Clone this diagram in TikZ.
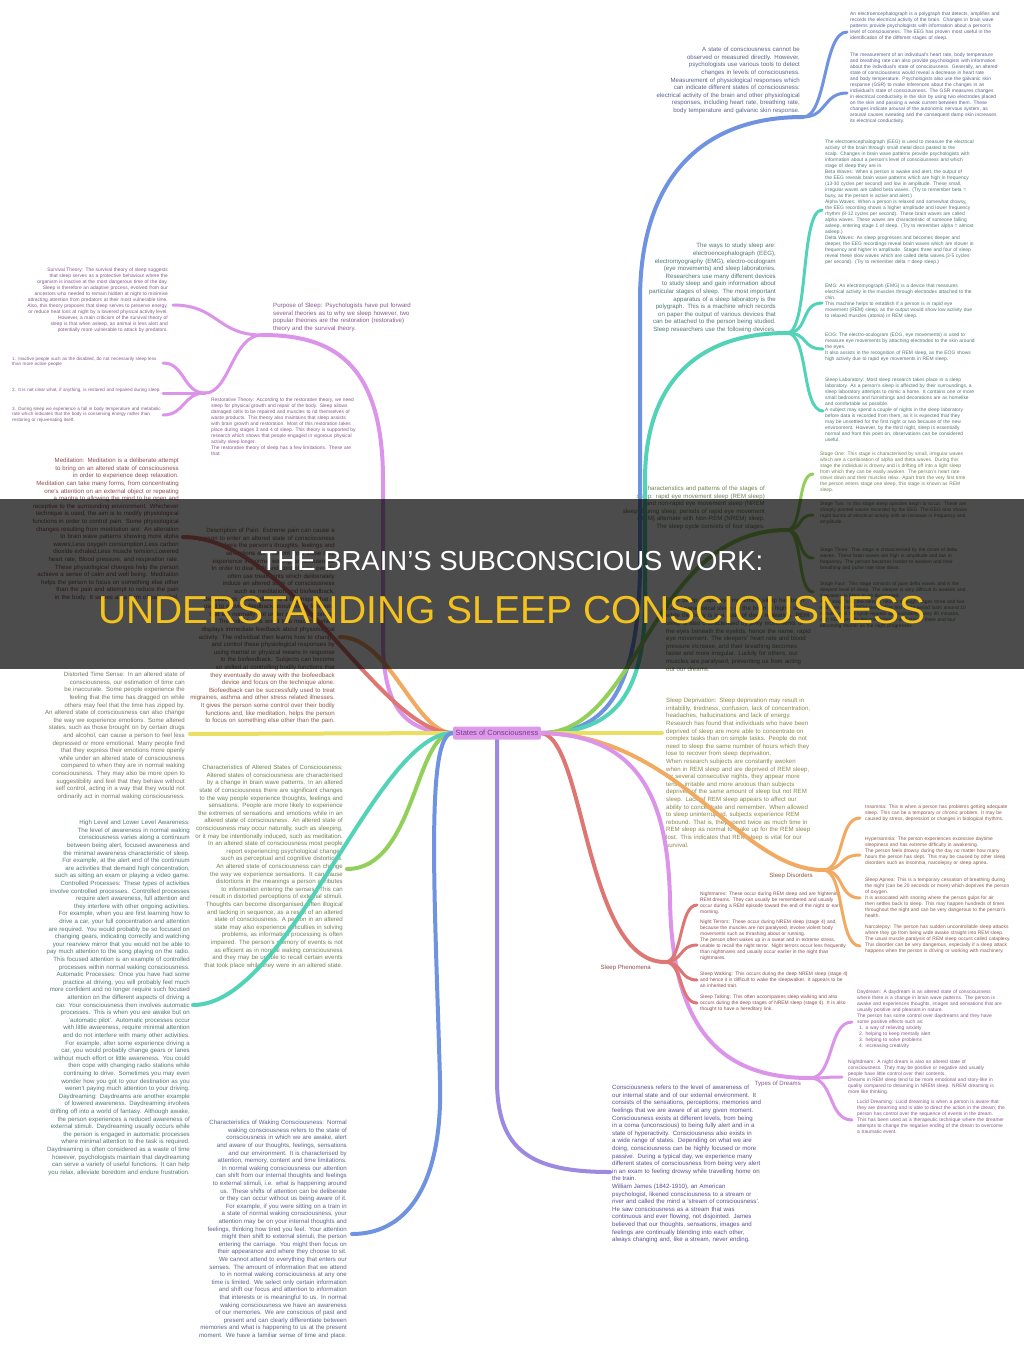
\documentclass[tikz,border=0pt]{standalone}
\usepackage{fontspec}
\setmainfont{Liberation Sans}
\usepackage{xcolor}
\usetikzlibrary{positioning}

\definecolor{brblue}{HTML}{6F93E0}
\definecolor{brteal}{HTML}{52D3B8}
\definecolor{brgreen}{HTML}{92D05A}
\definecolor{bryellow}{HTML}{EADF62}
\definecolor{brorange}{HTML}{F2AA62}
\definecolor{brred}{HTML}{DE7774}
\definecolor{brpink}{HTML}{DC94EA}
\definecolor{brviolet}{HTML}{9D88E2}
\definecolor{txblue}{HTML}{56658F}
\definecolor{txteal}{HTML}{4F7873}
\definecolor{txgreen}{HTML}{6C8450}
\definecolor{txyellow}{HTML}{8C8646}
\definecolor{txgray}{HTML}{77775E}
\definecolor{txorange}{HTML}{8E5A44}
\definecolor{txred}{HTML}{8E4E4E}
\definecolor{txpink}{HTML}{87578F}
\definecolor{txviolet}{HTML}{5D4E93}
\definecolor{rootfill}{HTML}{DD9AE8}
\definecolor{roottext}{HTML}{7E3A90}
\definecolor{titleyellow}{HTML}{F4C21C}

\newcommand\nohyph{\lefthyphenmin=62\righthyphenmin=62\hyphenpenalty=10000\exhyphenpenalty=10000}
\newcommand\fone{\fontsize{6.1}{7.6}\selectfont\nohyph}
\newcommand\ftwo{\fontsize{4.9}{6}\selectfont\nohyph}
\newcommand\fthree{\fontsize{4.6}{5.4}\selectfont\nohyph}

\pgfdeclarelayer{fg}
\pgfsetlayers{main,fg}

\tikzset{
  limb/.style={line width=4pt, line cap=round},
  twig/.style={line width=3pt, line cap=round},
  bigtext/.style={inner sep=0pt, font=\fone, text width=#1},
  bigtext/.default=146pt,
  smalltext/.style={inner sep=0pt, font=\ftwo, text width=#1},
  smalltext/.default=148pt,
  tinytext/.style={inner sep=0pt, font=\fthree, text width=#1},
  tinytext/.default=150pt,
  root/.style={fill=rootfill, text=roottext, rounded corners=2pt, inner sep=0pt,
    minimum width=88pt, minimum height=13pt, font=\fontsize{7.5}{9}\selectfont},
  caption/.style={inner sep=0pt, font=\fone}
}

\begin{document}
\begin{tikzpicture}[x=1pt,y=-1pt]
\useasboundingbox (0,0) rectangle (1024,1363);
\fill[white] (0,0) rectangle (1024,1363);

% end points of the branches
\coordinate (stateJ) at (803,117);
\coordinate (eegpoly) at (847,32);
\coordinate (physio) at (847,93);
\coordinate (studyJ) at (787,333);
\coordinate (eegc) at (822,210);
\coordinate (emgc) at (822,303);
\coordinate (eogc) at (823,349);
\coordinate (labc) at (823,411);
\coordinate (stageJ) at (787,530);
\coordinate (st1c) at (813,474);
\coordinate (st2c) at (813,515);
\coordinate (st3c) at (813,558);
\coordinate (st4c) at (813,592);
\coordinate (depc) at (662,733);
\coordinate (disJ) at (823,870);
\coordinate (insc) at (860,818);
\coordinate (hypc) at (860,855);
\coordinate (apnc) at (860,898);
\coordinate (narc) at (860,946);
\coordinate (phenJ) at (665,962);
\coordinate (nmc) at (697,905);
\coordinate (ntc) at (697,945);
\coordinate (swc) at (697,980);
\coordinate (stc) at (697,1003);
\coordinate (dreamJ) at (810,1078);
\coordinate (dayc) at (852,1022);
\coordinate (nightc) at (842,1077);
\coordinate (lucc) at (852,1120);
\coordinate (consc) at (610,1172);
\coordinate (purJ) at (262,335);
\coordinate (survc) at (173,305);
\coordinate (restJ) at (205,393);
\coordinate (item1c) at (163,363);
\coordinate (item2c) at (163,393);
\coordinate (item3c) at (163,415);
\coordinate (medc) at (183,537);
\coordinate (painc) at (340,637);
\coordinate (timec) at (190,734);
\coordinate (altc) at (347,869);
\coordinate (awarec) at (193,1005);
\coordinate (wakec) at (352,1234);

% measuring consciousness
\node[bigtext=150pt, align=right, text=txblue, anchor=south east] (statelbl) at (800,114) {A state of consciousness cannot be observed or measured directly. However, psychologists use various tools to detect changes in levels of consciousness.\\ Measurement of physiological responses which can indicate different states of consciousness: electrical activity of the brain and other physiological responses, including heart rate, breathing rate, body temperature and galvanic skin response.};
\node[smalltext=150pt, align=left, text=txblue, anchor=north west] (eegpolytxt) at (850,12) {An electroencephalograph is a polygraph that detects, amplifies and records the electrical activity of the brain. Changes in brain wave patterns provide psychologists with information about a person's level of consciousness. The EEG has proven most useful in the identification of the different stages of sleep.};
\node[smalltext=150pt, align=left, text=txblue, anchor=north west] (physiotxt) at (850,53) {The measurement of an individual's heart rate, body temperature and breathing rate can also provide psychologists with information about the individual's state of consciousness. Generally, an altered state of consciousness would reveal a decrease in heart rate and body temperature. Psychologists also use the galvanic skin response (GSR) to make inferences about the changes in an individual's state of consciousness. The GSR measures changes in electrical conductivity in the skin by using two electrodes placed on the skin and passing a weak current between them. These changes indicate arousal of the autonomic nervous system, as arousal causes sweating and the consequent damp skin increases its electrical conductivity.};

% ways to study sleep
\node[bigtext=142pt, align=right, text=txteal, anchor=south east] (studylbl) at (776,333) {The ways to study sleep are: electroencephalograph (EEG), electromyography (EMG), electro-oculogram (eye movements) and sleep laboratories.\\ Researchers use many different devices to study sleep and gain information about particular stages of sleep. The most important apparatus of a sleep laboratory is the polygraph. This is a machine which records on paper the output of various devices that can be attached to the person being studied.\\ Sleep researchers use the following devices.};
\node[smalltext=150pt, align=left, text=txteal, anchor=north west] (eegtxt) at (825,140) {The electroencephalograph (EEG) is used to measure the electrical activity of the brain through small metal discs pasted to the scalp. Changes in brain wave patterns provide psychologists with information about a person's level of consciousness and which stage of sleep they are in.\\ Beta Waves: When a person is awake and alert, the output of the EEG reveals brain wave patterns which are high in frequency (13-30 cycles per second) and low in amplitude. These small, irregular waves are called beta waves. (Try to remember beta = busy, as the person is active and alert.)\\ Alpha Waves: When a person is relaxed and somewhat drowsy, the EEG recording shows a higher amplitude and lower frequency rhythm (8-12 cycles per second). These brain waves are called alpha waves. These waves are characteristic of someone falling asleep, entering stage 1 of sleep. (Try to remember alpha = almost asleep.)\\ Delta Waves: As sleep progresses and becomes deeper and deeper, the EEG recordings reveal brain waves which are slower in frequency and higher in amplitude. Stages three and four of sleep reveal these slow waves which are called delta waves.(3-5 cycles per second). (Try to remember delta = deep sleep.)};
\node[smalltext=150pt, align=left, text=txteal, anchor=north west] (emgtxt) at (825,284) {EMG: An electromyograph (EMG) is a device that measures electrical activity in the muscles through electrodes attached to the chin.\\ This machine helps to establish if a person is in rapid eye movement (REM) sleep, as the output would show low activity due to relaxed muscles (atonia) in REM sleep.};
\node[smalltext=150pt, align=left, text=txteal, anchor=north west] (eogtxt) at (825,333) {EOG: The electro-oculogram (EOG, eye movements) is used to measure eye movements by attaching electrodes to the skin around the eyes.\\ It also assists in the recognition of REM sleep, as the EOG shows high activity due to rapid eye movements in REM sleep.};
\node[smalltext=150pt, align=left, text=txteal, anchor=north west] (labtxt) at (825,378) {Sleep Laboratory: Most sleep research takes place in a sleep laboratory. As a person's sleep is affected by their surroundings, a sleep laboratory attempts to mimic a home. It contains one or more small bedrooms and furnishings and decorations are as homelike and comfortable as possible.\\ A subject may spend a couple of nights in the sleep laboratory before data is recorded from them, as it is expected that they may be unsettled for the first night or two because of the new environment. However, by the third night, sleep is essentially normal and from this point on, observations can be considered useful.};

% stages of sleep
\node[bigtext=146pt, align=right, text=txgreen, anchor=south east] (stagelbl) at (765,530) {Characteristics and patterns of the stages of sleep: rapid eye movement sleep (REM sleep) and non-rapid eye movement sleep (NREM sleep).During sleep, periods of rapid eye movement (REM) alternate with Non-REM (NREM) sleep.\\ The sleep cycle consists of four stages.};
\node[smalltext=148pt, align=left, text=txgreen, anchor=north west] (st1txt) at (820,452) {Stage One: This stage is characterised by small, irregular waves which are a combination of alpha and theta waves. During this stage the individual is drowsy and is drifting off into a light sleep from which they can be easily awoken. The person's heart rate slows down and their muscles relax. Apart from the very first time the person enters stage one sleep, this stage is known as REM sleep.};
\node[smalltext=148pt, align=left, text=txgreen, anchor=north west] (st2txt) at (820,502) {Stage Two: In this stage sleep spindles begin to occur. These are sharply pointed waves recorded by the EEG. The EEG also shows rapid bursts of electrical activity with an increase in frequency and amplitude.};
\node[smalltext=148pt, align=left, text=txgreen, anchor=north west] (st3txt) at (820,548) {Stage Three: This stage is characterised by the onset of delta waves. These brain waves are high in amplitude and low in frequency. The person becomes harder to awaken and their breathing and pulse rate slow down.};
\node[smalltext=148pt, align=left, text=txgreen, anchor=north west] (st4txt) at (820,582) {Stage Four: This stage consists of pure delta waves and is the deepest level of sleep. The sleeper is very difficult to awaken and if awoken, is likely to be disoriented.\\ After stage four, the sleeper returns through stages three and two and then enters REM sleep. The first REM period lasts around 10 minutes and the cycle repeats approximately every 90 minutes, with REM periods becoming longer and stages three and four becoming shorter as the night progresses.};
\node[bigtext=146pt, align=left, text=txgreen, anchor=north west] (remtxt) at (666,598) {REM Sleep: Rapid eye movement sleep has been called paradoxical sleep as the brain is highly active while the body is in a state of deep relaxation. REM sleep is also characterised by jerky movements of the eyes beneath the eyelids, hence the name, rapid eye movement. The sleepers' heart rate and blood pressure increase, and their breathing becomes faster and more irregular. Luckily for others, our muscles are paralysed, preventing us from acting out our dreams.};

% sleep deprivation
\node[bigtext=146pt, align=left, text=txyellow, anchor=north west] (deptxt) at (666,698) {Sleep Deprivation: Sleep deprivation may result in irritability, tiredness, confusion, lack of concentration, headaches, hallucinations and lack of energy.\\ Research has found that individuals who have been deprived of sleep are more able to concentrate on complex tasks than on simple tasks. People do not need to sleep the same number of hours which they lose to recover from sleep deprivation.\\ When research subjects are constantly awoken when in REM sleep and are deprived of REM sleep, for several consecutive nights, they appear more tense, irritable and more anxious than subjects deprived of the same amount of sleep but not REM sleep. Lack of REM sleep appears to affect our ability to concentrate and remember. When allowed to sleep uninterrupted, subjects experience REM rebound. That is, they spend twice as much time in REM sleep as normal to make up for the REM sleep lost. This indicates that REM sleep is vital for our survival.};

% sleep disorders
\node[caption, text=txorange, anchor=north east] (dislbl) at (813,873) {Sleep Disorders};
\node[smalltext, align=left, text=txorange, anchor=north west] (instxt) at (865,805) {Insomnia: This is when a person has problems getting adequate sleep. This can be a temporary or chronic problem. It may be caused by stress, depression or changes in biological rhythms.};
\node[smalltext, align=left, text=txorange, anchor=north west] (hyptxt) at (865,837) {Hypersomnia: The person experiences excessive daytime sleepiness and has extreme difficulty in awakening.\\ The person feels drowsy during the day no matter how many hours the person has slept. This may be caused by other sleep disorders such as insomnia, narcolepsy or sleep apnea.};
\node[smalltext, align=left, text=txorange, anchor=north west] (apntxt) at (865,878) {Sleep Apnea: This is a temporary cessation of breathing during the night (can be 20 seconds or more) which deprives the person of oxygen.\\ It is associated with snoring where the person gulps for air then settles back to sleep. This may happen hundreds of times throughout the night and can be very dangerous to the person's health.};
\node[smalltext, align=left, text=txorange, anchor=north west] (nartxt) at (865,925) {Narcolepsy: The person has sudden uncontrollable sleep attacks where they go from being wide awake straight into REM sleep.\\ The usual muscle paralysis of REM sleep occurs called cataplexy. This disorder can be very dangerous, especially if a sleep attack happens when the person is driving or working with machinery.};

% sleep phenomena
\node[caption, text=txred, anchor=north east] (phenlbl) at (651,965) {Sleep Phenomena};
\node[smalltext, align=left, text=txred, anchor=north west] (nmtxt) at (700,892) {Nightmares: These occur during REM sleep and are frightening REM dreams. They can usually be remembered and usually occur during a REM episode toward the end of the night or early morning.};
\node[smalltext, align=left, text=txred, anchor=north west] (nttxt) at (700,920) {Night Terrors: These occur during NREM sleep (stage 4) and, because the muscles are not paralysed, involve violent body movements such as thrashing about or running.\\ The person often wakes up in a sweat and in extreme stress, unable to recall the night terror. Night terrors occur less frequently than nightmares and usually occur earlier in the night than nightmares.};
\node[smalltext, align=left, text=txred, anchor=north west] (swtxt) at (700,972) {Sleep Walking: This occurs during the deep NREM sleep (stage 4) and hence it is difficult to wake the sleepwalker. It appears to be an inherited trait.};
\node[smalltext, align=left, text=txred, anchor=north west] (sttxt) at (700,995) {Sleep Talking: This often accompanies sleep walking and also occurs during the deep stages of NREM sleep (stage 4). It is also thought to have a hereditary link.};

% dreams
\node[caption, text=txpink, anchor=north east] (dreamlbl) at (801,1081) {Types of Dreams};
\node[smalltext, align=left, text=txpink, anchor=north west] (daytxt) at (857,990) {Daydream: A daydream is an altered state of consciousness where there is a change in brain wave patterns. The person is awake and experiences thoughts, images and sensations that are usually positive and pleasant in nature.\\ The person has some control over daydreams and they have some positive effects such as:\\ \hspace*{2pt}1. a way of relieving anxiety\\ \hspace*{2pt}2. helping to keep mentally alert\\ \hspace*{2pt}3. helping to solve problems\\ \hspace*{2pt}4. increasing creativity};
\node[smalltext=150pt, align=left, text=txpink, anchor=north west] (nighttxt) at (848,1060) {Nightdream: A night dream is also an altered state of consciousness. They may be positive or negative and usually people have little control over their contents.\\ Dreams in REM sleep tend to be more emotional and story-like in quality compared to dreaming in NREM sleep. NREM dreaming is more like thinking.};
\node[smalltext, align=left, text=txpink, anchor=north west] (luctxt) at (857,1100) {Lucid Dreaming: Lucid dreaming is when a person is aware that they are dreaming and is able to direct the action in the dream; the person has control over the sequence of events in the dream.\\ This has been used as a therapeutic technique where the dreamer attempts to change the negative ending of the dream to overcome a traumatic event.};

% consciousness
\node[bigtext=150pt, align=left, text=txviolet, anchor=north west] (constxt) at (612,1085) {Consciousness refers to the level of awareness of our internal state and of our external environment. It consists of the sensations, perceptions, memories and feelings that we are aware of at any given moment. Consciousness exists at different levels, from being in a coma (unconscious) to being fully alert and in a state of hyperactivity. Consciousness also exists in a wide range of states. Depending on what we are doing, consciousness can be highly focused or more passive. During a typical day, we experience many different states of consciousness from being very alert in an exam to feeling drowsy while travelling home on the train.\\ William James (1842-1910), an American psychologist, likened consciousness to a stream or river and called the mind a 'stream of consciousness'. He saw consciousness as a stream that was continuous and ever flowing, not disjointed. James believed that our thoughts, sensations, images and feelings are continually blending into each other, always changing and, like a stream, never ending.};

% purpose of sleep
\node[bigtext=145pt, align=left, text=txpink, anchor=south west] (purlbl) at (273,332) {Purpose of Sleep: Psychologists have put forward several theories as to why we sleep however, two popular theories are the restoration (restorative) theory and the survival theory.};
\node[smalltext=145pt, align=right, text=txpink, anchor=north east] (survtxt) at (168,268) {Survival Theory: The survival theory of sleep suggests that sleep serves as a protective behaviour where the organism is inactive at the most dangerous time of the day.\\ Sleep is therefore an adaptive process, evolved from our ancestors who needed to remain hidden at night to minimise attracting attention from predators at their most vulnerable time. Also, this theory proposes that sleep serves to preserve energy, or reduce heat loss at night by a lowered physical activity level.\\ However, a main criticism of the survival theory of sleep is that when asleep, an animal is less alert and potentially more vulnerable to attack by predators.};
\node[smalltext=146pt, align=left, text=txpink, anchor=north west] (resttxt) at (211,398) {Restorative Theory: According to the restorative theory, we need sleep for physical growth and repair of the body. Sleep allows damaged cells to be repaired and muscles to rid themselves of waste products. This theory also maintains that sleep assists with brain growth and restoration. Most of this restoration takes place during stages 3 and 4 of sleep. This theory is supported by research which shows that people engaged in vigorous physical activity sleep longer.\\ The restorative theory of sleep has a few limitations. These are that:};
\node[tinytext, align=left, text=txpink, anchor=north west] (item1txt) at (12,357) {1. Inactive people such as the disabled, do not necessarily sleep less than more active people};
\node[tinytext, align=left, text=txpink, anchor=north west] (item2txt) at (12,388) {2. It is not clear what, if anything, is restored and repaired during sleep.};
\node[tinytext, align=left, text=txpink, anchor=north west] (item3txt) at (12,407) {3. During sleep we experience a fall in body temperature and metabolic rate which indicates that the body is conserving energy rather than restoring or rejuvenating itself.};

% altered states, left side
\node[bigtext=148pt, align=right, text=txred, anchor=north east] (medtxt) at (179,458) {Meditation: Meditation is a deliberate attempt to bring on an altered state of consciousness in order to experience deep relaxation.\\ Meditation can take many forms, from concentrating one's attention on an external object or repeating a mantra to allowing the mind to be open and receptive to the surrounding environment. Whichever technique is used, the aim is to modify physiological functions in order to control pain. Some physiological changes resulting from meditation are: An alteration to brain wave patterns showing more alpha waves,Less oxygen consumption,Less carbon dioxide exhaled,Less muscle tension,Lowered heart rate, Blood pressure, and respiration rate.\\ These physiological changes help the person achieve a sense of calm and well being. Meditation helps the person to focus on something else other than the pain and attempt to reduce the pain in the body. It serves as a form of pain relief.};
\node[bigtext=146pt, align=right, text=txorange, anchor=north east] (paintxt) at (335,528) {Description of Pain: Extreme pain can cause a person to enter an altered state of consciousness where the person's thoughts, feelings and sensations are different from those they experience in normal waking consciousness.\\ In order to deal with and control pain, people often use treatments which deliberately induce an altered state of consciousness such as meditation and biofeedback.\\ Biofeedback: Biofeedback is a technique that is used to provide feedback about bodily functions that are normally not under conscious control.\\ The individual is wired to a machine which displays immediate feedback about physiological activity. The individual then learns how to change and control these physiological responses by using mental or physical means in response to the biofeedback. Subjects can become so skilled at controlling bodily functions that they eventually do away with the biofeedback device and focus on the technique alone.\\ Biofeedback can be successfully used to treat migraines, asthma and other stress related illnesses. It gives the person some control over their bodily functions and, like meditation, helps the person to focus on something else other than the pain.};
\node[bigtext=145pt, align=right, text=txgray, anchor=north east] (timetxt) at (185,672) {Distorted Time Sense: In an altered state of consciousness, our estimation of time can be inaccurate. Some people experience the feeling that the time has dragged on while others may feel that the time has zipped by.\\ An altered state of consciousness can also change the way we experience emotions. Some altered states, such as those brought on by certain drugs and alcohol, can cause a person to feel less depressed or more emotional. Many people find that they express their emotions more openly while under an altered state of consciousness compared to when they are in normal waking consciousness. They may also be more open to suggestibility and feel that they behave without self control, acting in a way that they would not ordinarily act in normal waking consciousness.};
\node[bigtext=150pt, align=right, text=txgreen, anchor=north east] (alttxt) at (343,765) {Characteristics of Altered States of Consciousness: Altered states of consciousness are characterised by a change in brain wave patterns. In an altered state of consciousness there are significant changes to the way people experience thoughts, feelings and sensations. People are more likely to experience the extremes of sensations and emotions while in an altered state of consciousness. An altered state of consciousness may occur naturally, such as sleeping, or it may be intentionally induced, such as meditation.\\ In an altered state of consciousness most people report experiencing psychological changes such as perceptual and cognitive distortions.\\ An altered state of consciousness can change the way we experience sensations. It can cause distortions in the meanings a person attributes to information entering the senses. This can result in distorted perceptions of external stimuli.\\ Thoughts can become disorganised, often illogical and lacking in sequence, as a result of an altered state of consciousness. A person in an altered state may also experience difficulties in solving problems, as information processing is often impaired. The person's memory of events is not as efficient as in normal waking consciousness and they may be unable to recall certain events that took place while they were in an altered state.};

% waking consciousness, left side
\node[bigtext=148pt, align=right, text=txteal, anchor=north east] (awaretxt) at (190,820) {High Level and Lower Level Awareness: The level of awareness in normal waking consciousness varies along a continuum between being alert, focused awareness and the minimal awareness characteristic of sleep. For example, at the alert end of the continuum are activities that demand high concentration, such as sitting an exam or playing a video game.\\ Controlled Processes: These types of activities involve controlled processes. Controlled processes require alert awareness, full attention and they interfere with other ongoing activities.\\ For example, when you are first learning how to drive a car, your full concentration and attention are required. You would probably be so focused on changing gears, indicating correctly and watching your rearview mirror that you would not be able to pay much attention to the song playing on the radio. This focused attention is an example of controlled processes within normal waking consciousness.\\ Automatic Processes: Once you have had some practice at driving, you will probably feel much more confident and no longer require such focused attention on the different aspects of driving a car. Your consciousness then involves automatic processes. This is when you are awake but on 'automatic pilot'. Automatic processes occur with little awareness, require minimal attention and do not interfere with many other activities.\\ For example, after some experience driving a car, you would probably change gears or lanes without much effort or little awareness. You could then cope with changing radio stations while continuing to drive. Sometimes you may even wonder how you got to your destination as you weren't paying much attention to your driving.\\ Daydreaming: Daydreams are another example of lowered awareness. Daydreaming involves drifting off into a world of fantasy. Although awake, the person experiences a reduced awareness of external stimuli. Daydreaming usually occurs while the person is engaged in automatic processes where minimal attention to the task is required. Daydreaming is often considered as a waste of time however, psychologists maintain that daydreaming can serve a variety of useful functions. It can help you relax, alleviate boredom and endure frustration.};
\node[bigtext=148pt, align=right, text=txblue, anchor=north east] (waketxt) at (347,1120) {Characteristics of Waking Consciousness: Normal waking consciousness refers to the state of consciousness in which we are awake, alert and aware of our thoughts, feelings, sensations and our environment. It is characterised by attention, memory, content and time limitations.\\ In normal waking consciousness our attention can shift from our internal thoughts and feelings to external stimuli, i.e. what is happening around us. These shifts of attention can be deliberate or they can occur without us being aware of it. For example, if you were sitting on a train in a state of normal waking consciousness, your attention may be on your internal thoughts and feelings, thinking how tired you feel. Your attention might then shift to external stimuli, the person entering the carriage. You might then focus on their appearance and where they choose to sit.\\ We cannot attend to everything that enters our senses. The amount of information that we attend to in normal waking consciousness at any one time is limited. We select only certain information and shift our focus and attention to information that interests or is meaningful to us. In normal waking consciousness we have an awareness of our memories. We are conscious of past and present and can clearly differentiate between memories and what is happening to us at the present moment. We have a familiar sense of time and place.};

% centre
\begin{pgfonlayer}{fg}
\node[root] (soc) at (497,733) {States of Consciousness};
\end{pgfonlayer}

% branches to the right
\draw[limb, brblue] (soc.east) .. controls (600,733) and (640,700) .. (640,560) -- (640,300) .. controls (640,180) and (700,117) .. (stateJ);
\draw[limb, brteal] (soc.east) .. controls (610,733) and (645,700) .. (645,600) -- (645,480) .. controls (645,380) and (700,333) .. (studyJ);
\draw[limb, brgreen] (soc.east) .. controls (640,733) and (650,530) .. (stageJ);
\draw[limb, bryellow] (soc.east) -- (depc);
\draw[limb, brorange] (soc.east) .. controls (680,735) and (740,870) .. (disJ);
\draw[limb, brred] (soc.east) .. controls (585,738) and (585,962) .. (phenJ);
\draw[limb, brpink] (soc.east) .. controls (640,735) and (668,800) .. (670,900) .. controls (672,1040) and (730,1078) .. (dreamJ);
\draw[limb, brviolet] (soc.south) -- (497,1080) .. controls (497,1150) and (530,1172) .. (consc);

% branches to the left
\draw[limb, brpink] (soc.west) .. controls (400,733) and (383,700) .. (383,640) -- (383,480) .. controls (383,360) and (330,335) .. (purJ);
\draw[limb, brorange] (soc.west) .. controls (415,733) and (390,637) .. (painc);
\draw[limb, brred] (soc.west) .. controls (380,733) and (290,537) .. (medc);
\draw[limb, bryellow] (soc.west) -- (timec);
\draw[limb, brgreen] (soc.west) .. controls (415,733) and (415,869) .. (altc);
\draw[limb, brteal] (soc.west) .. controls (375,733) and (290,1005) .. (awarec);
\draw[limb, brblue] (soc.west) .. controls (425,733) and (435,900) .. (440,1080) .. controls (443,1180) and (410,1234) .. (wakec);

% sub branches
\draw[twig, brblue] (stateJ) .. controls +(24,0) and +(-24,0) .. (eegpoly);
\draw[twig, brblue] (stateJ) .. controls +(24,0) and +(-24,0) .. (physio);
\draw[twig, brteal] (studyJ) .. controls +(22,0) and +(-22,0) .. (eegc);
\draw[twig, brteal] (studyJ) .. controls +(22,0) and +(-22,0) .. (emgc);
\draw[twig, brteal] (studyJ) .. controls +(22,0) and +(-22,0) .. (eogc);
\draw[twig, brteal] (studyJ) .. controls +(22,0) and +(-22,0) .. (labc);
\draw[twig, brgreen] (stageJ) .. controls +(16,0) and +(-16,0) .. (st1c);
\draw[twig, brgreen] (stageJ) .. controls +(16,0) and +(-16,0) .. (st2c);
\draw[twig, brgreen] (stageJ) .. controls +(16,0) and +(-16,0) .. (st3c);
\draw[twig, brgreen] (stageJ) .. controls +(16,0) and +(-16,0) .. (st4c);
\draw[twig, brorange] (disJ) .. controls +(22,0) and +(-22,0) .. (insc);
\draw[twig, brorange] (disJ) .. controls +(22,0) and +(-22,0) .. (hypc);
\draw[twig, brorange] (disJ) .. controls +(22,0) and +(-22,0) .. (apnc);
\draw[twig, brorange] (disJ) .. controls +(22,0) and +(-22,0) .. (narc);
\draw[twig, brred] (phenJ) .. controls +(18,0) and +(-18,0) .. (nmc);
\draw[twig, brred] (phenJ) .. controls +(18,0) and +(-18,0) .. (ntc);
\draw[twig, brred] (phenJ) .. controls +(18,0) and +(-18,0) .. (swc);
\draw[twig, brred] (phenJ) .. controls +(18,0) and +(-18,0) .. (stc);
\draw[twig, brpink] (dreamJ) .. controls +(24,0) and +(-24,0) .. (dayc);
\draw[twig, brpink] (dreamJ) .. controls +(20,0) and +(-20,0) .. (nightc);
\draw[twig, brpink] (dreamJ) .. controls +(24,0) and +(-24,0) .. (lucc);
\draw[twig, brpink] (purJ) .. controls +(-45,0) and +(45,0) .. (survc);
\draw[twig, brpink] (purJ) .. controls +(-30,0) and +(25,0) .. (restJ);
\draw[twig, brpink] (restJ) .. controls +(-22,0) and +(22,0) .. (item1c);
\draw[twig, brpink] (restJ) .. controls +(-22,0) and +(22,0) .. (item2c);
\draw[twig, brpink] (restJ) .. controls +(-22,0) and +(22,0) .. (item3c);

% title band
\fill[black, fill opacity=0.7] (0,499) rectangle (1024,669);
\node[inner sep=0pt, text=white, font=\fontsize{27.5}{30}\selectfont] (title) at (512,561) {THE BRAIN'S SUBCONSCIOUS WORK:};
\node[inner sep=0pt, text=titleyellow, font=\fontsize{39}{42}\selectfont] (subtitle) at (512,610) {UNDERSTANDING SLEEP CONSCIOUSNESS};
\end{tikzpicture}
\end{document}
